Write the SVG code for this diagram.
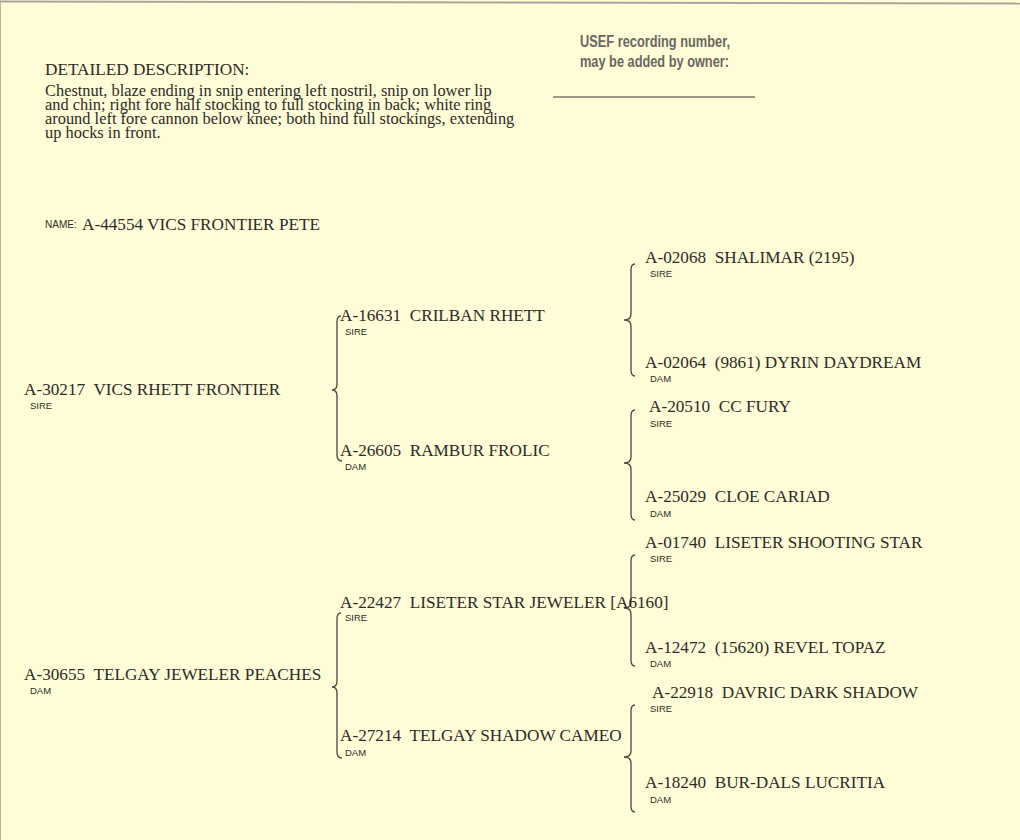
<svg xmlns="http://www.w3.org/2000/svg" width="1020" height="840" viewBox="0 0 1020 840">
<style>
.bg{fill:#fefdd8}
.t{font-family:"Liberation Serif","Times New Roman",serif;font-size:17.2px;fill:#2e2b26;white-space:pre}
.d{font-family:"Liberation Serif","Times New Roman",serif;font-size:16.4px;fill:#2e2b26}
.s{font-family:"Liberation Sans",Arial,sans-serif;font-size:9.5px;fill:#2e2b26}
.u{font-family:"Liberation Sans Narrow","Liberation Sans",Arial,sans-serif;font-size:16px;font-weight:bold;fill:#6b6760}
.br{fill:none;stroke:#4a463f;stroke-width:1.3}
</style>
<rect class="bg" x="0" y="0" width="1020" height="840"/>
<line x1="0" y1="1.5" x2="1020" y2="3.5" stroke="#a8a69a" stroke-width="2"/>
<line x1="0.5" y1="0" x2="0.5" y2="840" stroke="#b8b6a8" stroke-width="1"/>

<g id="description">
<text class="t" x="45" y="75">DETAILED DESCRIPTION:</text>
<text class="d" x="45" y="96">Chestnut, blaze ending in snip entering left nostril, snip on lower lip</text>
<text class="d" x="45" y="110">and chin; right fore half stocking to full stocking in back; white ring</text>
<text class="d" x="45" y="124">around left fore cannon below knee; both hind full stockings, extending</text>
<text class="d" x="45" y="138">up hocks in front.</text>
</g>

<g id="usef">
<text class="u" x="580" y="47" textLength="150" lengthAdjust="spacingAndGlyphs">USEF recording number,</text>
<text class="u" x="580" y="67" textLength="149" lengthAdjust="spacingAndGlyphs">may be added by owner:</text>
<line x1="553" y1="97" x2="755" y2="97" stroke="#3a3630" stroke-width="1"/>
</g>

<g id="name">
<text class="s" x="45" y="228" style="font-size:10px">NAME:</text>
<text class="t" x="82" y="230">A-44554 VICS FRONTIER PETE</text>
</g>

<g id="connectors">
<path class="br" d="M341,316 Q337,316 337,322 L337,384 Q337,390 332,390 Q337,390 337,396 L337,455 Q337,461 342,461"/>
<path class="br" d="M341,613 Q337,613 337,619 L337,681 Q337,687 332,687 Q337,687 337,693 L337,752 Q337,758 342,758"/>
<path class="br" d="M635,264 Q631,264 631,270 L631,314 Q631,320 624,320 Q631,320 631,326 L631,370 Q631,376 635,376"/>
<path class="br" d="M635,410 Q631,410 631,416 L631,457 Q631,463 624,463 Q631,463 631,469 L631,514 Q631,520 635,520"/>
<path class="br" d="M635,555 Q631,555 631,561 L631,602 Q631,608 624,608 Q631,608 631,614 L631,660 Q631,666 635,666"/>
<path class="br" d="M635,705 Q631,705 631,711 L631,751 Q631,757 624,757 Q631,757 631,763 L631,806 Q631,812 635,812"/>
</g>

<g id="sire">
<text class="t" x="24" y="395">A-30217  VICS RHETT FRONTIER</text>
<text class="s" x="30" y="409">SIRE</text>
</g>
<g id="dam">
<text class="t" x="24" y="680">A-30655  TELGAY JEWELER PEACHES</text>
<text class="s" x="30" y="694">DAM</text>
</g>

<g id="sire-sire">
<text class="t" x="340" y="321">A-16631  CRILBAN RHETT</text>
<text class="s" x="345" y="335">SIRE</text>
</g>
<g id="sire-dam">
<text class="t" x="340" y="456">A-26605  RAMBUR FROLIC</text>
<text class="s" x="345" y="470">DAM</text>
</g>
<g id="dam-sire">
<text class="t" x="340" y="608">A-22427  LISETER STAR JEWELER [A6160]</text>
<text class="s" x="345" y="621">SIRE</text>
</g>
<g id="dam-dam">
<text class="t" x="340" y="741">A-27214  TELGAY SHADOW CAMEO</text>
<text class="s" x="345" y="756">DAM</text>
</g>

<g id="ss-sire">
<text class="t" x="645" y="263">A-02068  SHALIMAR (2195)</text>
<text class="s" x="650" y="277">SIRE</text>
</g>
<g id="ss-dam">
<text class="t" x="645" y="368">A-02064  (9861) DYRIN DAYDREAM</text>
<text class="s" x="650" y="382">DAM</text>
</g>
<g id="sd-sire">
<text class="t" x="649" y="412">A-20510  CC FURY</text>
<text class="s" x="650" y="427">SIRE</text>
</g>
<g id="sd-dam">
<text class="t" x="645" y="502">A-25029  CLOE CARIAD</text>
<text class="s" x="650" y="517">DAM</text>
</g>
<g id="ds-sire">
<text class="t" x="645" y="548">A-01740  LISETER SHOOTING STAR</text>
<text class="s" x="650" y="562">SIRE</text>
</g>
<g id="ds-dam">
<text class="t" x="645" y="653">A-12472  (15620) REVEL TOPAZ</text>
<text class="s" x="650" y="667">DAM</text>
</g>
<g id="dd-sire">
<text class="t" x="652" y="698">A-22918  DAVRIC DARK SHADOW</text>
<text class="s" x="650" y="712">SIRE</text>
</g>
<g id="dd-dam">
<text class="t" x="645" y="788">A-18240  BUR-DALS LUCRITIA</text>
<text class="s" x="650" y="803">DAM</text>
</g>
</svg>
